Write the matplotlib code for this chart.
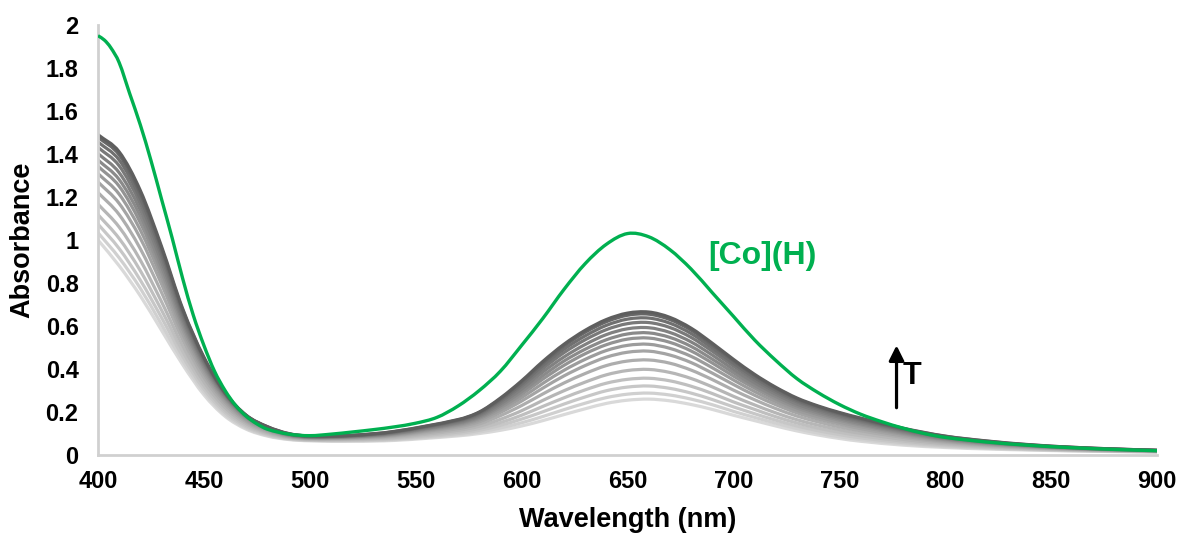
import matplotlib
matplotlib.use("Agg")
import matplotlib.pyplot as plt
from matplotlib.path import Path
from matplotlib.patches import PathPatch

plt.rcParams['font.family'] = ['Liberation Sans', 'DejaVu Sans']

# ---- data ----
wl_green = [400, 403, 406, 410, 415, 420, 425, 430, 435, 440, 445, 450, 455, 460, 465,
            470, 475, 480, 490, 500, 510, 520, 530, 540, 550, 560, 570, 580, 590, 600,
            610, 620, 630, 640, 650, 660, 670, 680, 690, 700, 710, 720, 730, 740, 750,
            760, 770, 780, 790, 800, 820, 840, 860, 880, 900]
abs_green = [1.95, 1.93, 1.895, 1.825, 1.68, 1.535, 1.37, 1.19, 1.01, 0.82, 0.65, 0.51, 0.39, 0.30, 0.23,
             0.18, 0.145, 0.12, 0.097, 0.09, 0.097, 0.107, 0.118, 0.131, 0.148, 0.175, 0.228, 0.30, 0.39, 0.51,
             0.635, 0.77, 0.89, 0.98, 1.03, 1.015, 0.955, 0.865, 0.755, 0.645, 0.535, 0.44, 0.355, 0.29, 0.235,
             0.19, 0.155, 0.125, 0.10, 0.082, 0.06, 0.045, 0.034, 0.026, 0.02]

wl_gray = [400, 410, 420, 430, 440, 450, 460, 470, 480, 490, 500, 520, 540, 570, 580, 590, 600,
           610, 620, 630, 640, 650, 660, 670, 680, 690, 700, 710, 720, 730, 740, 750, 760,
           780, 800, 820, 840, 860, 880, 900]

# temperature series, from highest (darkest) to lowest (lightest)
gray_1 = [1.49, 1.41, 1.23, 0.97, 0.68, 0.455, 0.29, 0.185, 0.132, 0.10, 0.088, 0.092, 0.11, 0.165, 0.20, 0.265, 0.345,
          0.435, 0.515, 0.58, 0.63, 0.66, 0.665, 0.64, 0.59, 0.52, 0.445, 0.375, 0.315, 0.265, 0.228, 0.198, 0.172,
          0.125, 0.088, 0.065, 0.048, 0.036, 0.028, 0.022]
gray_2 = [1.478, 1.396, 1.216, 0.960, 0.674, 0.452, 0.289, 0.184, 0.131, 0.099, 0.088, 0.091, 0.109, 0.163, 0.198, 0.261, 0.340,
          0.428, 0.507, 0.571, 0.620, 0.650, 0.655, 0.630, 0.581, 0.512, 0.439, 0.370, 0.311, 0.261, 0.225, 0.195, 0.169,
          0.123, 0.087, 0.064, 0.047, 0.036, 0.028, 0.022]
gray_3 = [1.456, 1.372, 1.193, 0.943, 0.662, 0.445, 0.287, 0.183, 0.130, 0.098, 0.086, 0.090, 0.107, 0.160, 0.193, 0.255, 0.330,
          0.416, 0.492, 0.554, 0.603, 0.632, 0.637, 0.613, 0.565, 0.498, 0.427, 0.360, 0.302, 0.254, 0.219, 0.190, 0.164,
          0.119, 0.084, 0.062, 0.046, 0.035, 0.027, 0.021]
gray_4 = [1.431, 1.345, 1.168, 0.923, 0.649, 0.436, 0.283, 0.182, 0.128, 0.097, 0.085, 0.089, 0.105, 0.156, 0.188, 0.247, 0.320,
          0.402, 0.476, 0.536, 0.583, 0.611, 0.616, 0.593, 0.547, 0.483, 0.414, 0.349, 0.293, 0.247, 0.212, 0.183, 0.159,
          0.116, 0.082, 0.061, 0.045, 0.034, 0.027, 0.021]
gray_5 = [1.402, 1.313, 1.139, 0.900, 0.633, 0.428, 0.278, 0.182, 0.127, 0.095, 0.084, 0.087, 0.102, 0.151, 0.182, 0.238, 0.307,
          0.386, 0.456, 0.514, 0.560, 0.587, 0.592, 0.570, 0.526, 0.465, 0.398, 0.336, 0.283, 0.237, 0.204, 0.176, 0.153,
          0.111, 0.078, 0.058, 0.044, 0.033, 0.026, 0.021]
gray_6 = [1.372, 1.281, 1.110, 0.876, 0.618, 0.417, 0.271, 0.177, 0.124, 0.093, 0.083, 0.085, 0.100, 0.147, 0.176, 0.229, 0.295,
          0.369, 0.437, 0.492, 0.536, 0.563, 0.568, 0.547, 0.505, 0.446, 0.383, 0.323, 0.272, 0.228, 0.196, 0.169, 0.146,
          0.106, 0.075, 0.056, 0.042, 0.032, 0.025, 0.020]
gray_7 = [1.343, 1.250, 1.080, 0.853, 0.602, 0.406, 0.264, 0.173, 0.121, 0.092, 0.081, 0.084, 0.097, 0.142, 0.170, 0.220, 0.282,
          0.353, 0.417, 0.471, 0.513, 0.539, 0.544, 0.524, 0.484, 0.428, 0.367, 0.311, 0.261, 0.219, 0.188, 0.162, 0.140,
          0.101, 0.072, 0.054, 0.041, 0.031, 0.024, 0.020]
gray_8 = [1.309, 1.213, 1.046, 0.826, 0.584, 0.393, 0.256, 0.167, 0.118, 0.090, 0.080, 0.082, 0.094, 0.137, 0.163, 0.210, 0.267,
          0.333, 0.394, 0.445, 0.486, 0.510, 0.515, 0.496, 0.459, 0.406, 0.349, 0.295, 0.248, 0.208, 0.178, 0.153, 0.132,
          0.096, 0.068, 0.051, 0.039, 0.030, 0.024, 0.019]
gray_9 = [1.270, 1.170, 1.008, 0.795, 0.563, 0.379, 0.246, 0.161, 0.114, 0.087, 0.078, 0.079, 0.091, 0.131, 0.155, 0.198, 0.251,
          0.311, 0.368, 0.416, 0.455, 0.478, 0.483, 0.465, 0.430, 0.381, 0.328, 0.278, 0.234, 0.196, 0.167, 0.144, 0.123,
          0.089, 0.064, 0.048, 0.037, 0.028, 0.023, 0.018]
gray_10 = [1.221, 1.118, 0.959, 0.756, 0.537, 0.361, 0.234, 0.154, 0.109, 0.085, 0.076, 0.077, 0.087, 0.123, 0.145, 0.183, 0.230,
           0.284, 0.335, 0.379, 0.416, 0.437, 0.442, 0.427, 0.395, 0.351, 0.302, 0.257, 0.216, 0.181, 0.154, 0.131, 0.113,
           0.082, 0.059, 0.045, 0.034, 0.027, 0.021, 0.018]
gray_11 = [1.167, 1.060, 0.906, 0.713, 0.508, 0.341, 0.221, 0.146, 0.104, 0.082, 0.073, 0.074, 0.082, 0.115, 0.134, 0.166, 0.206,
           0.254, 0.299, 0.339, 0.373, 0.393, 0.398, 0.384, 0.356, 0.317, 0.273, 0.233, 0.196, 0.164, 0.139, 0.118, 0.101,
           0.073, 0.053, 0.041, 0.032, 0.025, 0.020, 0.017]
gray_12 = [1.118, 1.007, 0.857, 0.674, 0.482, 0.323, 0.209, 0.138, 0.099, 0.079, 0.071, 0.071, 0.078, 0.107, 0.124, 0.151, 0.185,
           0.226, 0.266, 0.303, 0.334, 0.352, 0.357, 0.345, 0.320, 0.286, 0.247, 0.212, 0.178, 0.149, 0.125, 0.106, 0.090,
           0.065, 0.048, 0.037, 0.029, 0.023, 0.019, 0.016]
gray_13 = [1.074, 0.960, 0.813, 0.639, 0.459, 0.307, 0.198, 0.131, 0.095, 0.076, 0.069, 0.068, 0.074, 0.100, 0.115, 0.138, 0.167,
           0.201, 0.237, 0.270, 0.299, 0.316, 0.321, 0.310, 0.288, 0.258, 0.224, 0.192, 0.162, 0.135, 0.113, 0.095, 0.080,
           0.058, 0.043, 0.034, 0.027, 0.022, 0.018, 0.015]
gray_14 = [1.034, 0.917, 0.775, 0.607, 0.438, 0.293, 0.188, 0.125, 0.091, 0.074, 0.068, 0.066, 0.071, 0.094, 0.107, 0.126, 0.150,
           0.179, 0.211, 0.241, 0.267, 0.283, 0.288, 0.279, 0.260, 0.234, 0.203, 0.175, 0.148, 0.123, 0.102, 0.085, 0.072,
           0.052, 0.039, 0.031, 0.025, 0.020, 0.017, 0.015]
gray_15 = [1.00, 0.88, 0.74, 0.58, 0.42, 0.28, 0.18, 0.12, 0.088, 0.072, 0.066, 0.064, 0.068, 0.089, 0.100, 0.115, 0.135,
           0.160, 0.188, 0.215, 0.240, 0.255, 0.260, 0.252, 0.235, 0.212, 0.185, 0.160, 0.135, 0.112, 0.093, 0.077, 0.064,
           0.046, 0.035, 0.028, 0.023, 0.019, 0.016, 0.014]

gray_series = [gray_1, gray_2, gray_3, gray_4, gray_5, gray_6, gray_7, gray_8,
               gray_9, gray_10, gray_11, gray_12, gray_13, gray_14, gray_15]

x_ticks = [400, 450, 500, 550, 600, 650, 700, 750, 800, 850, 900]
y_ticks = [0, 0.2, 0.4, 0.6, 0.8, 1.0, 1.2, 1.4, 1.6, 1.8, 2.0]
y_tick_labels = ['0', '0.2', '0.4', '0.6', '0.8', '1', '1.2', '1.4', '1.6', '1.8', '2']
green_label = '[Co](H)'
arrow_label = 'T'


def smooth_path(xs, ys):
    """Smooth (Hermite-style Bezier) path through the data points, in data coords."""
    n = len(xs)
    slopes = []
    for i in range(n):
        if i == 0:
            m = (ys[1] - ys[0]) / (xs[1] - xs[0])
        elif i == n - 1:
            m = (ys[-1] - ys[-2]) / (xs[-1] - xs[-2])
        else:
            m = (ys[i + 1] - ys[i - 1]) / (xs[i + 1] - xs[i - 1])
        slopes.append(m)
    verts = [(xs[0], ys[0])]
    codes = [Path.MOVETO]
    for i in range(n - 1):
        h = xs[i + 1] - xs[i]
        verts += [(xs[i] + h / 3, ys[i] + slopes[i] * h / 3),
                  (xs[i + 1] - h / 3, ys[i + 1] - slopes[i + 1] * h / 3),
                  (xs[i + 1], ys[i + 1])]
        codes += [Path.CURVE4, Path.CURVE4, Path.CURVE4]
    return Path(verts, codes)


# ---- figure ----
fig = plt.figure(figsize=(11.82, 5.35), dpi=100)
ax = fig.add_axes([0.0829, 0.1495, 0.8960, 0.8038])

n = len(gray_series)
dark, light = 0.37, 0.85
# draw lightest first so darker lines sit on top
for i in range(n - 1, -1, -1):
    g = dark + (light - dark) * i / (n - 1)
    ax.add_patch(PathPatch(smooth_path(wl_gray, gray_series[i]), fill=False,
                           edgecolor=(g, g, g), lw=2.3, capstyle='butt', joinstyle='round'))

ax.add_patch(PathPatch(smooth_path(wl_green, abs_green), fill=False,
                       edgecolor='#00b050', lw=2.4, capstyle='butt', joinstyle='round', zorder=5))

ax.text(688, 0.925, green_label, color='#00b050', fontsize=23, fontweight='bold',
        ha='left', va='center')
ax.annotate('', xy=(777, 0.51), xytext=(777, 0.22),
            arrowprops=dict(arrowstyle='-|>,head_length=0.9,head_width=0.45',
                            color='black', lw=2.3, shrinkA=0, shrinkB=0))
ax.text(780, 0.367, arrow_label, color='black', fontsize=22, fontweight='bold',
        ha='left', va='center')

ax.set_xlim(400, 900)
ax.set_ylim(0, 2)
ax.set_xticks(x_ticks)
ax.set_yticks(y_ticks)
ax.set_yticklabels(y_tick_labels)
ax.tick_params(axis='both', length=0, labelsize=17)
ax.tick_params(axis='y', pad=14)
ax.tick_params(axis='x', pad=11)
for lab in ax.get_xticklabels() + ax.get_yticklabels():
    lab.set_fontweight('bold')

for s in ['top', 'right']:
    ax.spines[s].set_visible(False)
for s in ['left', 'bottom']:
    ax.spines[s].set_color('#d0d0d0')
    ax.spines[s].set_linewidth(2)

ax.set_xlabel('Wavelength (nm)', fontsize=19.5, fontweight='bold', va='center')
ax.set_ylabel('Absorbance', fontsize=19.5, fontweight='bold', va='center')
ax.xaxis.set_label_coords(0.5, -0.151)
ax.yaxis.set_label_coords(-0.0718, 0.5)

fig.savefig('out.png', dpi=100)
